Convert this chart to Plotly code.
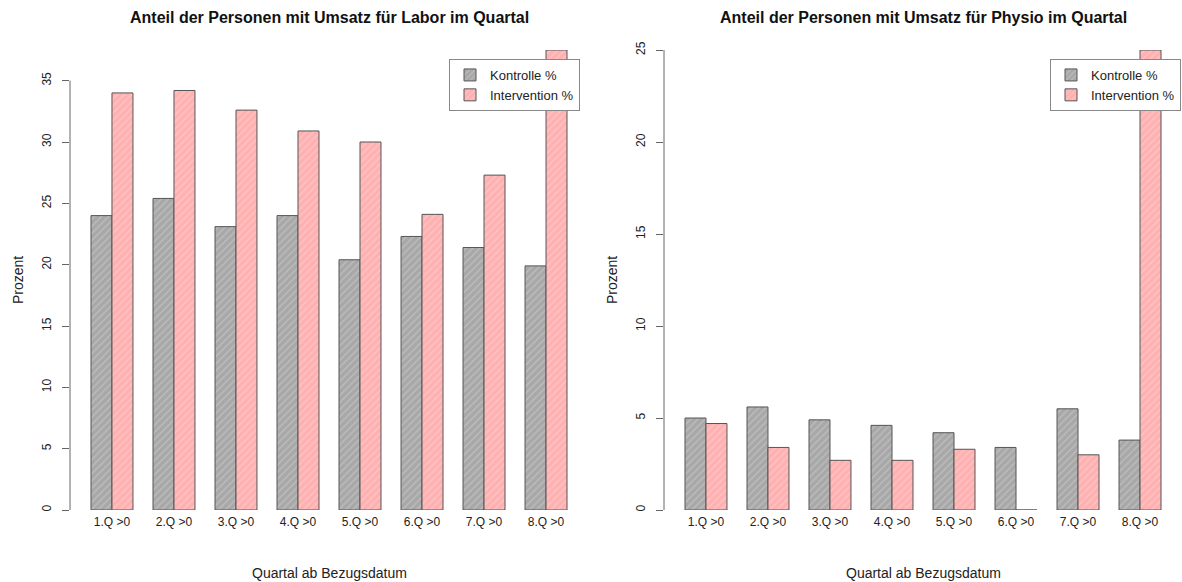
import plotly.graph_objects as go

categories = ["1.Q >0", "2.Q >0", "3.Q >0", "4.Q >0", "5.Q >0", "6.Q >0", "7.Q >0", "8.Q >0"]
labor_kontrolle = [24.0, 25.4, 23.1, 24.0, 20.4, 22.3, 21.4, 19.9]
labor_intervention = [34.0, 34.2, 32.6, 30.9, 30.0, 24.1, 27.3, 37.5]
physio_kontrolle = [5.0, 5.6, 4.9, 4.6, 4.2, 3.4, 5.5, 3.8]
physio_intervention = [4.7, 3.4, 2.7, 2.7, 3.3, 0.0, 3.0, 25.0]
series_names = ["Kontrolle %", "Intervention %"]
labor_yticks = [0, 5, 10, 15, 20, 25, 30, 35]
physio_yticks = [0, 5, 10, 15, 20, 25]
titles = ["Anteil der Personen mit Umsatz für Labor im Quartal",
          "Anteil der Personen mit Umsatz für Physio im Quartal"]
x_title = "Quartal ab Bezugsdatum"
y_title = "Prozent"

W, H = 1182, 582
T, B = 50, 72
FONT = "Liberation Sans, Arial, sans-serif"

gray_style = dict(color="#ababab", line=dict(color="#555555", width=1),
                  pattern=dict(shape="/", bgcolor="#a8a8a8", fgcolor="#d4d4d4", size=5, solidity=0.25))
pink_style = dict(color="#ffb3b3", line=dict(color="#555555", width=1),
                  pattern=dict(shape="/", bgcolor="#ffb0b0", fgcolor="#ffdada", size=5, solidity=0.25))

fig = go.Figure()
fig.add_trace(go.Bar(x=categories, y=labor_kontrolle, name=series_names[0], marker=gray_style,
                     xaxis="x", yaxis="y", legend="legend"))
fig.add_trace(go.Bar(x=categories, y=labor_intervention, name=series_names[1], marker=pink_style,
                     xaxis="x", yaxis="y", legend="legend"))
fig.add_trace(go.Bar(x=categories, y=physio_kontrolle, name=series_names[0], marker=gray_style,
                     xaxis="x2", yaxis="y2", legend="legend2"))
fig.add_trace(go.Bar(x=categories, y=physio_intervention, name=series_names[1], marker=pink_style,
                     xaxis="x2", yaxis="y2", legend="legend2"))

xl = (70, 588)
xr = (664, 1182)
def dom(a):
    return [a[0] / W, min(a[1] / W, 1.0)]

xcommon = dict(type="category", range=[-0.677, 7.677], showline=False, showgrid=False, zeroline=False,
               ticks="", tickfont=dict(size=12, color="#222", family=FONT), ticklabelstandoff=3)
ycommon = dict(showline=False, showgrid=False, zeroline=False, ticks="outside", ticklen=7,
               tickcolor="#666", tickwidth=1, tickangle=-90, ticklabelstandoff=6,
               tickfont=dict(size=12, color="#222", family=FONT))

plot_h = H - T - B
leg_y = (H - B - 59) / plot_h
legcommon = dict(xanchor="right", y=leg_y, yanchor="top", bgcolor="white", bordercolor="#888",
                 borderwidth=1, font=dict(size=13, family=FONT, color="#222"), tracegroupgap=0,
                 itemwidth=30)

fig.update_layout(
    width=W, height=H,
    margin=dict(l=0, r=0, t=T, b=B),
    paper_bgcolor="white", plot_bgcolor="white",
    barmode="group", bargap=0.323, bargroupgap=0,
    font=dict(family=FONT, size=12, color="#222"),
    xaxis=dict(domain=dom(xl), anchor="y", **xcommon),
    xaxis2=dict(domain=dom(xr), anchor="y2", **xcommon),
    yaxis=dict(domain=[0, 1], anchor="x", range=[0, 37.5], tickvals=labor_yticks, **ycommon),
    yaxis2=dict(domain=[0, 1], anchor="x2", range=[0, 25], tickvals=physio_yticks, **ycommon),
    legend=dict(x=580 / W, **legcommon),
    legend2=dict(x=1181 / W, **legcommon),
)

# y axis lines spanning only the tick range (R style)
fig.add_shape(type="line", xref="x domain", yref="y", x0=0, x1=0, y0=0, y1=labor_yticks[-1],
              line=dict(color="#666", width=1))
fig.add_shape(type="line", xref="x2 domain", yref="y2", x0=0, x1=0, y0=0, y1=physio_yticks[-1],
              line=dict(color="#666", width=1))

for i, (xd, title) in enumerate([(xl, titles[0]), (xr, titles[1])]):
    cx = (xd[0] + xd[1]) / 2 / W
    fig.add_annotation(text="<b>%s</b>" % title, xref="paper", yref="paper", x=cx,
                       y=(H - B - 18) / plot_h, xanchor="center", yanchor="middle", showarrow=False,
                       font=dict(size=16, family=FONT, color="#111"))
    fig.add_annotation(text=x_title, xref="paper", yref="paper", x=cx,
                       y=(H - B - 573) / plot_h, xanchor="center", yanchor="middle", showarrow=False,
                       font=dict(size=14, family=FONT, color="#222"))
    fig.add_annotation(text=y_title, xref="paper", yref="paper", x=(xd[0] - 52) / W,
                       y=0.5, xanchor="center", yanchor="middle", showarrow=False, textangle=-90,
                       font=dict(size=14, family=FONT, color="#222"))

fig.write_html("out.html", config={"displayModeBar": False},
               post_script="document.body.style.margin='0';document.body.style.padding='0';"
                           "document.body.style.overflow='hidden';")
